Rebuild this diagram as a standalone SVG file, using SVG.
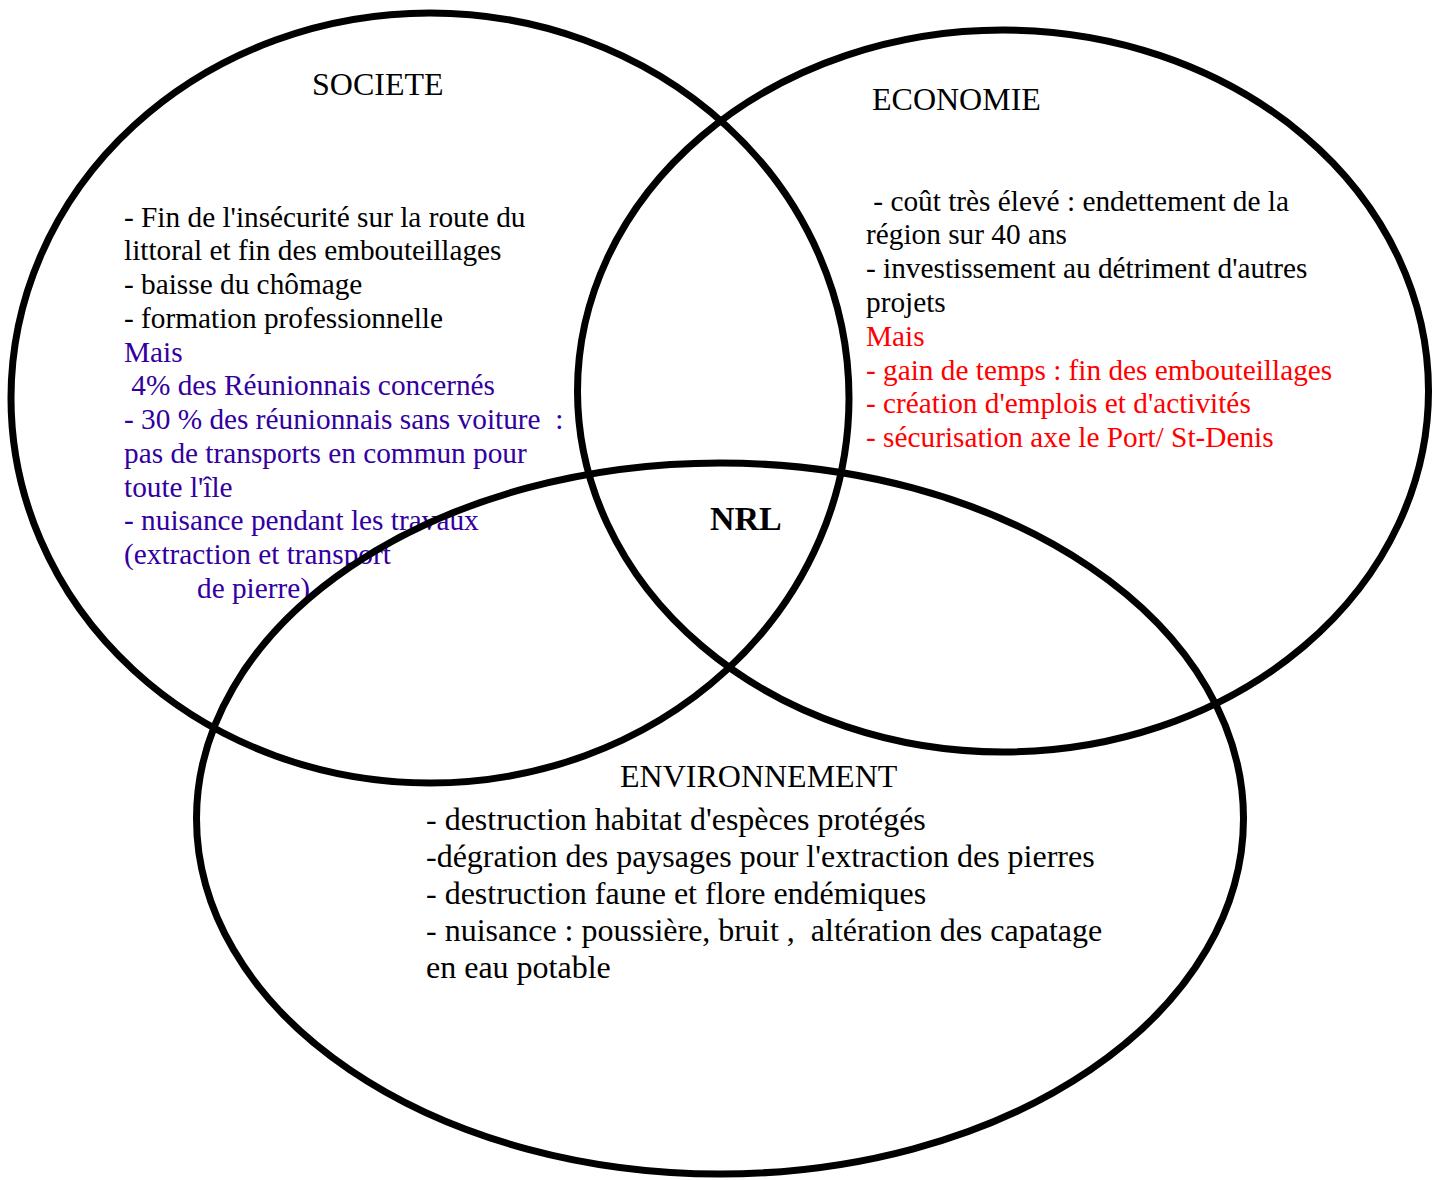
<svg xmlns="http://www.w3.org/2000/svg" width="1439" height="1180" viewBox="0 0 1439 1180">
<style>
.ell{fill:none;stroke:#000;stroke-width:7}
text{font-family:"Liberation Serif","Times New Roman",serif;fill:#000}
.t{font-size:32px}
.b{font-size:29.3px}
.e{font-size:32px}
.blue{fill:#3300a0}
.red{fill:#ff0000}
.nrl{font-size:34px;font-weight:bold}
</style>
<rect width="1439" height="1180" fill="#fff"/>
<g id="societe">
<ellipse class="ell" cx="430" cy="398" rx="419" ry="385"/>
<text class="t" x="312" y="95">SOCIETE</text>
<text class="b" x="124" y="227">- Fin de l'insécurité sur la route du</text>
<text class="b" x="124" y="260">littoral et fin des embouteillages</text>
<text class="b" x="124" y="294">- baisse du chômage</text>
<text class="b" x="124" y="328">- formation professionnelle</text>
<text class="b blue" x="124" y="362">Mais</text>
<text class="b blue" x="124" y="395" xml:space="preserve"> 4% des Réunionnais concernés</text>
<text class="b blue" x="124" y="429" xml:space="preserve">- 30 % des réunionnais sans voiture  :</text>
<text class="b blue" x="124" y="463">pas de transports en commun pour</text>
<text class="b blue" x="124" y="497">toute l'île</text>
<text class="b blue" x="124" y="530">- nuisance pendant les travaux</text>
<text class="b blue" x="124" y="564">(extraction et transport</text>
<text class="b blue" x="197" y="598">de pierre)</text>
</g>
<g id="economie">
<ellipse class="ell" cx="1003" cy="391" rx="425.5" ry="361"/>
<text class="t" x="872" y="110">ECONOMIE</text>
<text class="b" x="866" y="211" xml:space="preserve"> - coût très élevé : endettement de la</text>
<text class="b" x="866" y="244">région sur 40 ans</text>
<text class="b" x="866" y="278">- investissement au détriment d'autres</text>
<text class="b" x="866" y="312">projets</text>
<text class="b red" x="866" y="346">Mais</text>
<text class="b red" x="866" y="380">- gain de temps : fin des embouteillages</text>
<text class="b red" x="866" y="413">- création d'emplois et d'activités</text>
<text class="b red" x="866" y="447">- sécurisation axe le Port/ St-Denis</text>
</g>
<g id="environnement">
<ellipse class="ell" cx="720" cy="818.5" rx="523.5" ry="355.5"/>
<text class="t" x="620" y="787">ENVIRONNEMENT</text>
<text class="e" x="426" y="830">- destruction habitat d'espèces protégés</text>
<text class="e" x="426" y="867">-dégration des paysages pour l'extraction des pierres</text>
<text class="e" x="426" y="904">- destruction faune et flore endémiques</text>
<text class="e" x="426" y="941" xml:space="preserve">- nuisance : poussière, bruit ,  altération des capatage</text>
<text class="e" x="426" y="978">en eau potable</text>
</g>
<g id="nrl">
<text class="nrl" x="710" y="530">NRL</text>
</g>
<g id="connectors"/>
</svg>
